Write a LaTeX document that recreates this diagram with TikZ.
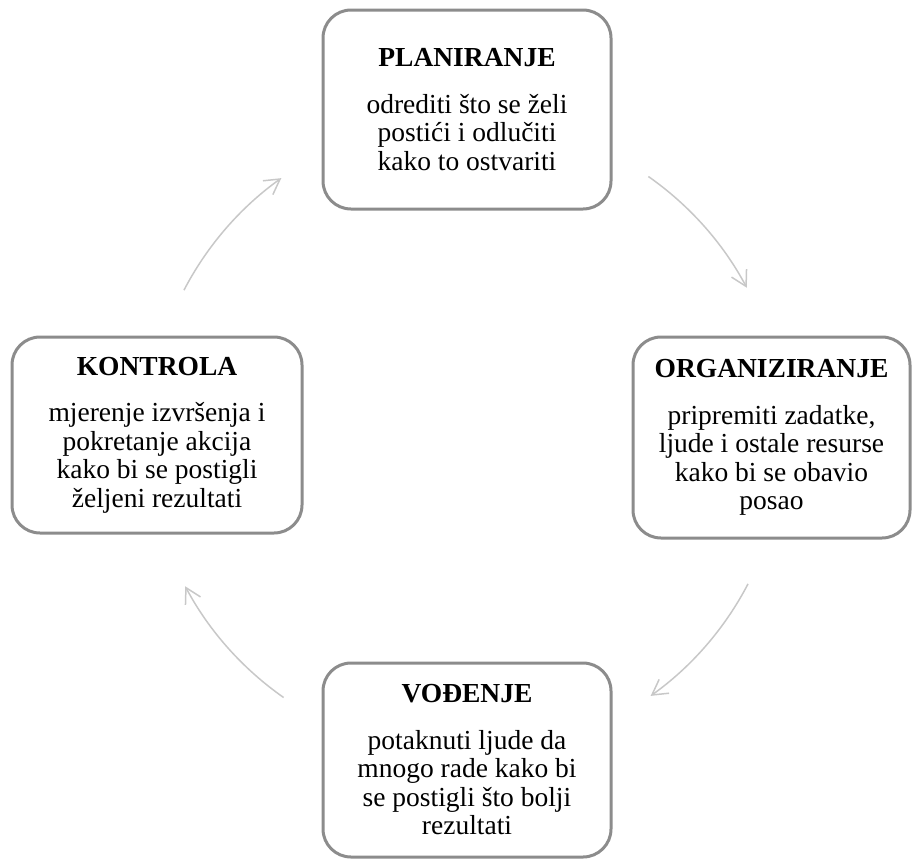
\documentclass[tikz,border=0pt]{standalone}
\usepackage{fontspec}
\setmainfont{Liberation Serif}
\usetikzlibrary{arrows.meta}
\definecolor{boxgray}{RGB}{140,140,140}
\definecolor{arrgray}{RGB}{200,200,200}
\begin{document}
\begin{tikzpicture}[x=1pt,y=1pt,
  box/.style={draw=boxgray, line width=3pt, rounded corners=28pt, align=center,
    inner sep=0pt, font=\fontsize{27.5}{28.5}\selectfont},
  cyc/.style={draw=arrgray, line width=1.5pt, -{Straight Barb[length=15pt,width=17pt]}}]
\useasboundingbox (0,0) rectangle (913,-860);

\node[box, minimum width=288pt, minimum height=199pt] (plan) at (467,-109.5)
  {\textbf{PLANIRANJE}\\[18pt]odrediti što se želi\\postići i odlučiti\\kako to ostvariti};
\node[box, minimum width=277pt, minimum height=201pt] (org) at (771.5,-437.5)
  {\textbf{ORGANIZIRANJE}\\[18pt]pripremiti zadatke,\\ljude i ostale resurse\\kako bi se obavio\\posao};
\node[box, minimum width=290pt, minimum height=196pt] (kon) at (157,-435)
  {\textbf{KONTROLA}\\[18pt]mjerenje izvršenja i\\pokretanje akcija\\kako bi se postigli\\željeni rezultati};
\node[box, minimum width=288pt, minimum height=194pt] (vod) at (467,-760)
  {\textbf{VOĐENJE}\\[18pt]potaknuti ljude da\\mnogo rade kako bi\\se postigli što bolji\\rezultati};

\coordinate (c) at (466,-437);
\path (c) ++(55:318) coordinate (a1);
\path (c) ++(-27.5:318) coordinate (a2);
\path (c) ++(-125:318) coordinate (a3);
\path (c) ++(152.5:318) coordinate (a4);
\draw[cyc] (a1) arc[start angle=55, end angle=28, radius=318];
\draw[cyc] (a2) arc[start angle=-27.5, end angle=-54.5, radius=318];
\draw[cyc] (a3) arc[start angle=-125, end angle=-152, radius=318];
\draw[cyc] (a4) arc[start angle=152.5, end angle=125.5, radius=318];
\end{tikzpicture}
\end{document}
